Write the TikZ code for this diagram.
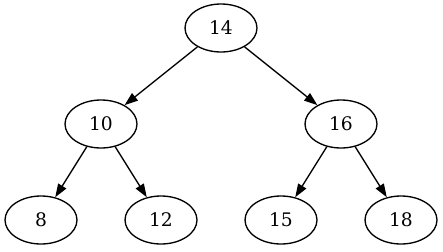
\documentclass[tikz,border=0pt]{standalone}
\usepackage{fontspec}
\setmainfont{DejaVu Serif}
\usetikzlibrary{shapes.geometric, arrows.meta, positioning}

\begin{document}
\begin{tikzpicture}[
        vertex/.style = {draw, ellipse, line width=1pt, minimum width=54pt, minimum height=36pt, inner sep=0pt, font=\fontsize{14pt}{16pt}\selectfont},
        edge/.style = {line width=1pt, -{Triangle[length=10pt, width=7pt]}}
    ]
        \useasboundingbox (0,0) rectangle (332.25pt,-188.25pt);
        % Nodes
        \node [vertex] (n14) at (165.75pt,-21pt) {14};
        \node [vertex, below left=72pt and 90pt of n14.center, anchor=center] (n10) {10};
        \node [vertex, below right=72pt and 90pt of n14.center, anchor=center] (n16) {16};
        \node [vertex, below left=72pt and 45pt of n10.center, anchor=center] (n8) {8};
        \node [vertex, below right=72pt and 45pt of n10.center, anchor=center] (n12) {12};
        \node [vertex, below left=72pt and 45pt of n16.center, anchor=center] (n15) {15};
        \node [vertex, below right=72pt and 45pt of n16.center, anchor=center] (n18) {18};

        % Connectors
        \draw [edge] (n14) -- (n10);
        \draw [edge] (n14) -- (n16);
        \draw [edge] (n10) -- (n8);
        \draw [edge] (n10) -- (n12);
        \draw [edge] (n16) -- (n15);
        \draw [edge] (n16) -- (n18);
    \end{tikzpicture}
\end{document}
